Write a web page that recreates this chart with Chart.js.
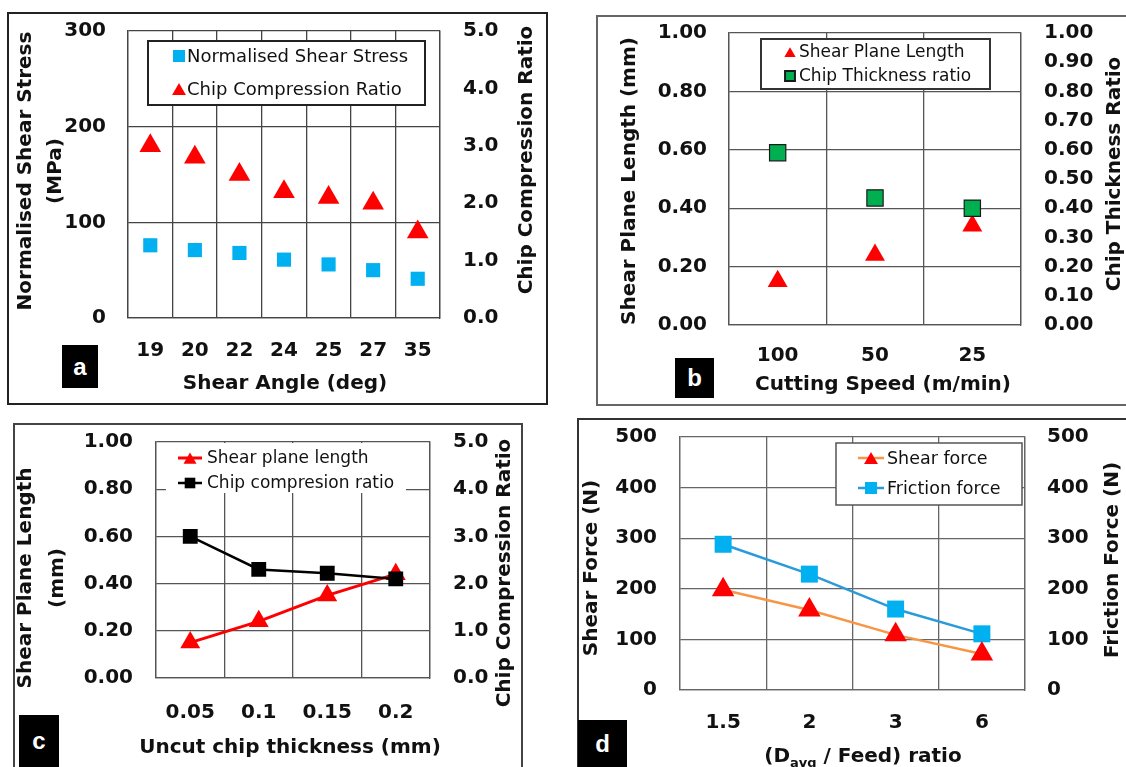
<!DOCTYPE html>
<html>
<head>
<meta charset="utf-8">
<title>Shear / chip charts</title>
<script src="https://cdn.jsdelivr.net/npm/chart.js@4.4.1/dist/chart.umd.min.js"></script>
<style>
  html, body { margin: 0; padding: 0; background: #fff; }
  body { width: 1126px; height: 767px; position: relative; overflow: hidden; }
  .frame { position: absolute; box-sizing: border-box; border: 2px solid #333; }
  canvas { position: absolute; }
  .tag {
    position: absolute; background: #000; color: #fff;
    font: bold 24px "Liberation Sans", Arial, sans-serif;
    display: flex; align-items: center; justify-content: center;
  }
</style>
</head>
<body>
<div class="frame" style="left:7px;top:12px;width:541px;height:393px;border-color:#222;"></div>
<div class="frame" style="left:596px;top:15px;width:560px;height:391px;border-color:#666;"></div>
<div class="frame" style="left:13px;top:423px;width:510px;height:400px;border-color:#444;"></div>
<div class="frame" style="left:577px;top:418px;width:600px;height:400px;border-color:#333;"></div>

<canvas id="chartA" width="535" height="386" style="left:10px;top:15px;"></canvas>
<canvas id="chartB" width="528" height="385" style="left:598px;top:18px;"></canvas>
<canvas id="chartC" width="504" height="341" style="left:16px;top:426px;"></canvas>
<canvas id="chartD" width="546" height="346" style="left:580px;top:421px;"></canvas>

<div class="tag" style="left:62px;top:345px;width:36px;height:43px;">a</div>
<div class="tag" style="left:675px;top:358px;width:39px;height:40px;">b</div>
<div class="tag" style="left:19px;top:715px;width:40px;height:60px;padding-bottom:8px;box-sizing:border-box;">c</div>
<div class="tag" style="left:578px;top:720px;width:49px;height:56px;padding-bottom:8px;box-sizing:border-box;">d</div>

<script>
// ---- data ----
// (a) shear angle
const angleLabels = ["19", "20", "22", "24", "25", "27", "35"];
const shearStress = [76, 71, 68, 61, 56, 50, 41];          // MPa, left axis
const compressionA = [3.0, 2.8, 2.5, 2.2, 2.1, 2.0, 1.5];  // right axis

// (b) cutting speed
const speedLabels = ["100", "50", "25"];
const planeLengthB = [0.15, 0.24, 0.34];
const thicknessRatioB = [0.59, 0.435, 0.40];

// (c) uncut chip thickness
const uncutLabels = ["0.05", "0.1", "0.15", "0.2"];
const planeLengthC = [0.15, 0.24, 0.35, 0.44];
const compressionC = [3.0, 2.3, 2.22, 2.1];

// (d) Davg / feed ratio
const ratioLabels = ["1.5", "2", "3", "6"];
const shearForce = [198, 158, 109, 71];
const frictionForce = [288, 229, 160, 111];

const FONT = "'DejaVu Sans', sans-serif";
const INK = "#111";

// legend drawn inside the plot, page coordinates
const boxLegend = {
  id: "boxLegend",
  afterDatasetsDraw(chart, args, o) {
    if (!o || !o.rows) return;
    const ctx = chart.ctx;
    ctx.save();
    ctx.translate(-chart.canvas.offsetLeft, -chart.canvas.offsetTop);
    ctx.fillStyle = "#fff";
    ctx.fillRect(o.x, o.y, o.w, o.h);
    if (o.borderWidth) {
      ctx.lineWidth = o.borderWidth;
      ctx.strokeStyle = o.borderColor;
      ctx.strokeRect(o.x, o.y, o.w, o.h);
    }
    o.rows.forEach(row => {
      const ds = chart.data.datasets[row.ds];
      if (o.line) {
        ctx.beginPath();
        ctx.strokeStyle = ds.borderColor;
        ctx.lineWidth = ds.borderWidth;
        ctx.moveTo(o.markX - o.lineHalf, row.y);
        ctx.lineTo(o.markX + o.lineHalf, row.y);
        ctx.stroke();
      }
      ctx.fillStyle = ds.pointBackgroundColor;
      ctx.strokeStyle = ds.pointBorderColor;
      const dy = ds.pointStyle === "triangle" ? row.r * 0.25 : 0;
      Chart.helpers.drawPoint(ctx, {
        pointStyle: ds.pointStyle, radius: row.r, rotation: 0,
        borderWidth: ds.pointBorderWidth || 0
      }, o.markX, row.y + dy);
      ctx.fillStyle = INK;
      ctx.font = o.font;
      ctx.textAlign = "left";
      ctx.textBaseline = "middle";
      ctx.fillText(ds.label, o.textX, row.y + 1);
    });
    ctx.restore();
  }
};

// axis titles (right ones read bottom-to-top like the left ones)
const axisTitles = {
  id: "axisTitles",
  afterDraw(chart, args, o) {
    if (!o || !o.items) return;
    const ctx = chart.ctx;
    ctx.save();
    ctx.translate(-chart.canvas.offsetLeft, -chart.canvas.offsetTop);
    ctx.fillStyle = INK;
    ctx.textBaseline = "middle";
    o.items.forEach(t => {
      ctx.save();
      ctx.translate(t.x, t.y);
      ctx.rotate(t.rot || 0);
      const big = "bold 20px " + FONT, small = "bold 13px " + FONT;
      if (t.parts) {
        let total = 0;
        t.parts.forEach(p => { ctx.font = p.sub ? small : big; total += ctx.measureText(p.t).width; });
        let x = -total / 2;
        ctx.textAlign = "left";
        t.parts.forEach(p => {
          ctx.font = p.sub ? small : big;
          ctx.fillText(p.t, x, p.sub ? 7 : 0);
          x += ctx.measureText(p.t).width;
        });
      } else {
        ctx.font = big;
        ctx.textAlign = "center";
        ctx.fillText(t.text, 0, 0);
      }
      ctx.restore();
    });
    ctx.restore();
  }
};

function buildPanel(id, p) {
  const c = document.getElementById(id);
  const cx = c.offsetLeft, cy = c.offsetTop;
  const WL = p.area.l - cx;
  const WR = cx + c.width - p.area.r;
  const HX = cy + c.height - p.area.b;
  const tickFont = { family: FONT, size: 20, weight: "bold" };
  const grid = { color: p.gridColor, lineWidth: 1.3, drawTicks: false };
  const border = { color: p.gridColor, width: 1.3 };

  return new Chart(c, {
    type: "line",
    data: { labels: p.labels, datasets: p.datasets },
    options: {
      responsive: false,
      animation: false,
      events: [],
      layout: { padding: { left: 0, right: 0, top: p.area.t - cy, bottom: 0 } },
      plugins: {
        legend: { display: false },
        tooltip: { enabled: false },
        boxLegend: p.legend,
        axisTitles: { items: p.titles }
      },
      scales: {
        x: {
          offset: true,
          grid: Object.assign({ offset: true }, grid),
          border: border,
          ticks: { font: tickFont, color: INK, padding: p.xPad, maxRotation: 0, autoSkip: false },
          afterFit(s) { s.height = HX; s.paddingLeft = 0; s.paddingRight = 0; }
        },
        y: {
          position: "left",
          min: p.left.min, max: p.left.max,
          grid: grid,
          border: border,
          ticks: {
            stepSize: p.left.step, font: tickFont, color: INK, padding: p.lPad,
            callback: v => v.toFixed(p.left.dec)
          },
          afterFit(s) { s.width = WL; s.paddingTop = 0; s.paddingBottom = 0; }
        },
        y2: {
          position: "right",
          min: p.right.min, max: p.right.max,
          grid: { display: false, drawTicks: false },
          border: border,
          ticks: {
            stepSize: p.right.step, font: tickFont, color: INK, padding: p.rPad,
            callback: v => v.toFixed(p.right.dec)
          },
          afterFit(s) { s.width = WR; s.paddingTop = 0; s.paddingBottom = 0; }
        }
      }
    },
    plugins: [boxLegend, axisTitles]
  });
}

// ----- (a) -----
buildPanel("chartA", {
  labels: angleLabels,
  area: { l: 128, t: 31, r: 440, b: 318 },
  gridColor: "#444",
  xPad: 21, lPad: 22, rPad: 23,
  left: { min: 0, max: 300, step: 100, dec: 0 },
  right: { min: 0, max: 5, step: 1, dec: 1 },
  datasets: [
    {
      label: "Normalised Shear Stress", data: shearStress, yAxisID: "y", showLine: false,
      pointStyle: "rect", pointRadius: 10, pointBackgroundColor: "#00B0F0",
      pointBorderColor: "#00B0F0", pointBorderWidth: 0, borderColor: "#00B0F0"
    },
    {
      label: "Chip Compression Ratio", data: compressionA, yAxisID: "y2", showLine: false,
      pointStyle: "triangle", pointRadius: 12.5, pointBackgroundColor: "#FF0000",
      pointBorderColor: "#FF0000", pointBorderWidth: 0, borderColor: "#FF0000"
    }
  ],
  legend: {
    x: 148, y: 41, w: 277, h: 64, borderWidth: 2, borderColor: "#222",
    markX: 179, textX: 187, font: "18px " + FONT,
    rows: [{ ds: 0, y: 56, r: 8.5 }, { ds: 1, y: 89, r: 8 }]
  },
  titles: [
    { text: "Normalised Shear Stress", x: 26, y: 171, rot: -Math.PI / 2 },
    { text: "(MPa)", x: 56, y: 171, rot: -Math.PI / 2 },
    { text: "Chip Compression Ratio", x: 527, y: 160, rot: -Math.PI / 2 },
    { text: "Shear Angle (deg)", x: 285, y: 384 }
  ]
});

// ----- (b) -----
buildPanel("chartB", {
  labels: speedLabels,
  area: { l: 729, t: 33, r: 1021, b: 325 },
  gridColor: "#555",
  xPad: 19, lPad: 22, rPad: 23,
  left: { min: 0, max: 1, step: 0.2, dec: 2 },
  right: { min: 0, max: 1, step: 0.1, dec: 2 },
  datasets: [
    {
      label: "Shear Plane Length", data: planeLengthB, yAxisID: "y", showLine: false, order: 1,
      pointStyle: "triangle", pointRadius: 11.5, pointBackgroundColor: "#FF0000",
      pointBorderColor: "#FF0000", pointBorderWidth: 0, borderColor: "#FF0000"
    },
    {
      label: "Chip Thickness ratio", data: thicknessRatioB, yAxisID: "y2", showLine: false, order: 0,
      pointStyle: "rect", pointRadius: 11.5, pointBackgroundColor: "#00B050",
      pointBorderColor: "#1a1a1a", pointBorderWidth: 1.2, borderColor: "#00B050"
    }
  ],
  legend: {
    x: 761, y: 39, w: 229, h: 50, borderWidth: 2, borderColor: "#333",
    markX: 790, textX: 799, font: "17px " + FONT,
    rows: [{ ds: 0, y: 52, r: 6.5 }, { ds: 1, y: 76, r: 7 }]
  },
  titles: [
    { text: "Shear Plane Length (mm)", x: 630, y: 181, rot: -Math.PI / 2 },
    { text: "Chip Thickness Ratio", x: 1115, y: 174, rot: -Math.PI / 2 },
    { text: "Cutting Speed (m/min)", x: 883, y: 385 }
  ]
});

// ----- (c) -----
buildPanel("chartC", {
  labels: uncutLabels,
  area: { l: 156, t: 442, r: 430, b: 678 },
  gridColor: "#555",
  xPad: 23, lPad: 23, rPad: 23,
  left: { min: 0, max: 1, step: 0.2, dec: 2 },
  right: { min: 0, max: 5, step: 1, dec: 1 },
  datasets: [
    {
      label: "Shear plane length", data: planeLengthC, yAxisID: "y", order: 1,
      borderColor: "#FF0000", borderWidth: 3,
      pointStyle: "triangle", pointRadius: 11.5, pointBackgroundColor: "#FF0000",
      pointBorderColor: "#FF0000", pointBorderWidth: 0
    },
    {
      label: "Chip compresion ratio", data: compressionC, yAxisID: "y2", order: 0,
      borderColor: "#000", borderWidth: 2.5,
      pointStyle: "rect", pointRadius: 10.5, pointBackgroundColor: "#000",
      pointBorderColor: "#000", pointBorderWidth: 0
    }
  ],
  legend: {
    x: 166, y: 443, w: 240, h: 50, borderWidth: 0,
    line: true, markX: 190, lineHalf: 12, textX: 207, font: "17px " + FONT,
    rows: [{ ds: 0, y: 458, r: 7.5 }, { ds: 1, y: 483, r: 7.5 }]
  },
  titles: [
    { text: "Shear Plane Length", x: 26, y: 578, rot: -Math.PI / 2 },
    { text: "(mm)", x: 58, y: 578, rot: -Math.PI / 2 },
    { text: "Chip Compression Ratio", x: 505, y: 573, rot: -Math.PI / 2 },
    { text: "Uncut chip thickness (mm)", x: 290, y: 748 }
  ]
});

// ----- (d) -----
buildPanel("chartD", {
  labels: ratioLabels,
  area: { l: 680, t: 437, r: 1025, b: 690 },
  gridColor: "#666",
  xPad: 21, lPad: 23, rPad: 22,
  left: { min: 0, max: 500, step: 100, dec: 0 },
  right: { min: 0, max: 500, step: 100, dec: 0 },
  datasets: [
    {
      label: "Shear force", data: shearForce, yAxisID: "y",
      borderColor: "#F79646", borderWidth: 2.5,
      pointStyle: "triangle", pointRadius: 13, pointBackgroundColor: "#FF0000",
      pointBorderColor: "#FF0000", pointBorderWidth: 0
    },
    {
      label: "Friction force", data: frictionForce, yAxisID: "y2",
      borderColor: "#2A9BD8", borderWidth: 2.5,
      pointStyle: "rect", pointRadius: 12, pointBackgroundColor: "#00B0F0",
      pointBorderColor: "#00B0F0", pointBorderWidth: 0
    }
  ],
  legend: {
    x: 836, y: 443, w: 186, h: 62, borderWidth: 1.5, borderColor: "#555",
    line: true, markX: 871, lineHalf: 13, textX: 887, font: "17.5px " + FONT,
    rows: [{ ds: 0, y: 458, r: 8 }, { ds: 1, y: 488, r: 8.5 }]
  },
  titles: [
    { text: "Shear Force (N)", x: 592, y: 568, rot: -Math.PI / 2 },
    { text: "Friction Force (N)", x: 1113, y: 560, rot: -Math.PI / 2 },
    { parts: [{ t: "(D" }, { t: "avg", sub: true }, { t: " / Feed) ratio" }], x: 863, y: 757 }
  ]
});
</script>
</body>
</html>
